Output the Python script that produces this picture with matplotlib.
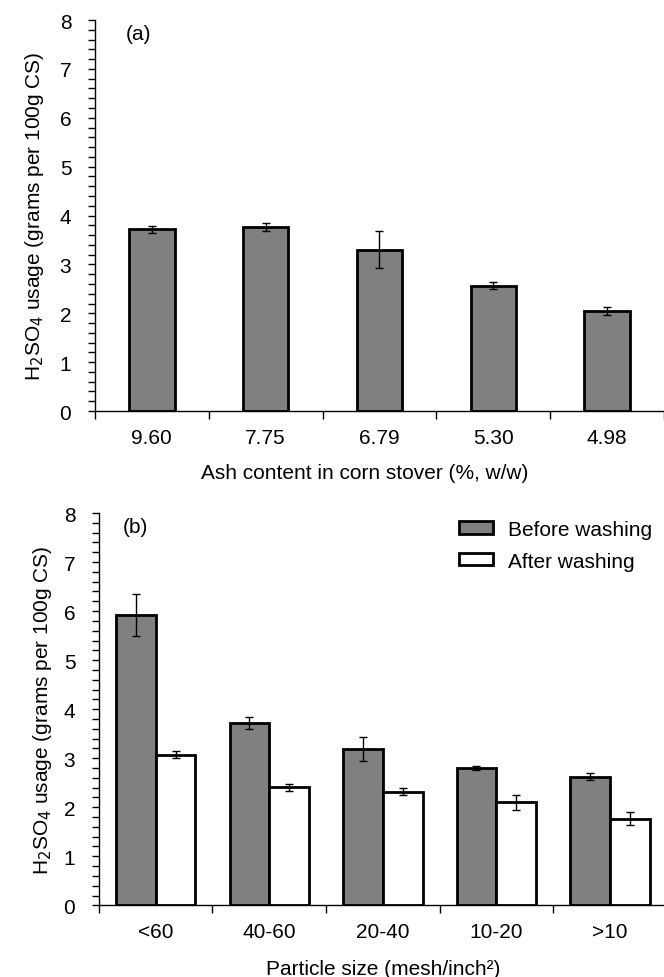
import matplotlib
matplotlib.use("Agg")
import matplotlib.pyplot as plt
import numpy as np
from matplotlib.ticker import MultipleLocator

plt.rcParams['font.family'] = ['Liberation Sans', 'DejaVu Sans']

# Panel (a)
ash_labels = ["9.60", "7.75", "6.79", "5.30", "4.98"]
ash_values = [3.72, 3.76, 3.30, 2.56, 2.05]
ash_err = [0.07, 0.08, 0.38, 0.07, 0.08]

# Panel (b)
size_labels = ["<60", "40-60", "20-40", "10-20", ">10"]
before_values = [5.92, 3.72, 3.19, 2.80, 2.62]
before_err = [0.43, 0.12, 0.25, 0.05, 0.07]
after_values = [3.07, 2.41, 2.32, 2.10, 1.77]
after_err = [0.075, 0.07, 0.075, 0.15, 0.13]

ylabel = r"H$_2$SO$_4$ usage (grams per 100g CS)"

fig = plt.figure(figsize=(6.64, 9.78), dpi=100)
ax1 = fig.add_axes([0.143, 0.5787, 0.857, 0.3998])
ax2 = fig.add_axes([0.149, 0.0733, 0.855, 0.4011])

FS = 15
GRAY = '#808080'
ekw = dict(ecolor='black', elinewidth=1.0, capsize=3, capthick=1.0)

def style(ax, n, ypad):
    ax.set_ylim(0, 8)
    ax.set_xlim(0, n)
    for s in ['top', 'right']:
        ax.spines[s].set_visible(False)
    ax.spines['left'].set_linewidth(1.0)
    ax.spines['bottom'].set_linewidth(1.0)
    ax.yaxis.set_major_locator(MultipleLocator(1))
    ax.yaxis.set_minor_locator(MultipleLocator(0.2))
    ax.tick_params(axis='y', which='major', direction='out', length=5, width=1.0, labelsize=FS, pad=12)
    ax.tick_params(axis='y', which='minor', direction='out', length=5, width=1.0)
    ax.set_xticks(np.arange(0, n + 1), minor=False)
    ax.set_xticklabels([])
    ax.set_xticks(np.arange(n) + 0.5, minor=True)
    ax.tick_params(axis='x', which='major', direction='out', length=6, width=1.0)
    ax.tick_params(axis='x', which='minor', length=0, labelsize=FS, pad=12)
    ax.set_ylabel(ylabel, fontsize=FS, labelpad=ypad)

n = len(ash_labels)
x = np.arange(n) + 0.5
ax1.bar(x, ash_values, width=0.40, color=GRAY, edgecolor='black', linewidth=2,
        yerr=ash_err, error_kw=ekw, zorder=2)
style(ax1, n, 9.5)
ax1.set_xticklabels(ash_labels, minor=True)
ax1.set_xlabel("Ash content in corn stover (%, w/w)", fontsize=FS, labelpad=13)
ax1.xaxis.set_label_coords(0.4745, -0.133)
ax1.text(0.27, 7.62, "(a)", fontsize=FS)

n = len(size_labels)
x = np.arange(n) + 0.5
w = 0.35
ax2.bar(x - w / 2, before_values, width=w, color=GRAY, edgecolor='black', linewidth=2,
        yerr=before_err, error_kw=ekw, label="Before washing", zorder=2)
ax2.bar(x + w / 2, after_values, width=w, color='white', edgecolor='black', linewidth=2,
        yerr=after_err, error_kw=ekw, label="After washing", zorder=2)
style(ax2, n, 7)
ax2.set_xticklabels(size_labels, minor=True)
ax2.set_xlabel("Particle size (mesh/inch²)", fontsize=FS, labelpad=13)
ax2.text(0.21, 7.62, "(b)", fontsize=FS)
ax2.legend(loc='upper right', bbox_to_anchor=(1.008, 1.03), frameon=False, fontsize=FS,
           handlelength=1.65, handleheight=0.55, handletextpad=0.72, labelspacing=0.6)

fig.savefig("out.png", dpi=100)
